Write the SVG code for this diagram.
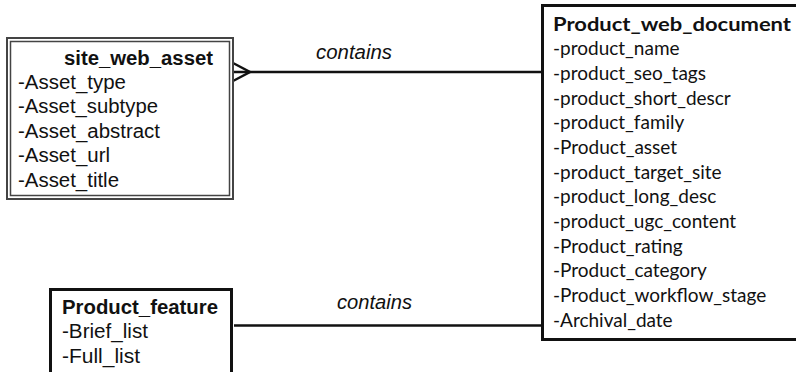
<svg xmlns="http://www.w3.org/2000/svg" width="796" height="372" viewBox="0 0 796 372">
<style>
.ar{font-family:"Liberation Sans",Arial,sans-serif;font-size:20px;fill:#111}
.b{font-weight:bold}
.it{font-style:italic}
.ca{font-family:Lato,"Open Sans",sans-serif;font-size:19px;fill:#111}
.box{fill:#fff;stroke:#111;stroke-width:3}
.con{stroke:#111;stroke-width:2.5;fill:none}
</style>
<rect width="796" height="372" fill="#fff"/>
<g id="connectors">
<line class="con" x1="234" y1="72" x2="543" y2="72"/>
<polyline class="con" points="233,63 250,72 233,81"/>
<line class="con" x1="234" y1="325.5" x2="543" y2="325.5"/>
<text class="ar it" x="316" y="59" textLength="76" lengthAdjust="spacingAndGlyphs">contains</text>
<text class="ar it" x="337" y="309" textLength="75" lengthAdjust="spacingAndGlyphs">contains</text>
</g>
<g id="site_web_asset">
<rect x="7" y="38" width="226" height="161" fill="#fff" stroke="#444" stroke-width="2"/>
<rect x="10.5" y="41.5" width="219" height="154" fill="none" stroke="#444" stroke-width="1.5"/>
<text class="ar b" x="64" y="65" textLength="149" lengthAdjust="spacingAndGlyphs">site_web_asset</text>
<text class="ar" x="18" y="89" textLength="108" lengthAdjust="spacingAndGlyphs">-Asset_type</text>
<text class="ar" x="18" y="113" textLength="140" lengthAdjust="spacingAndGlyphs">-Asset_subtype</text>
<text class="ar" x="18" y="138" textLength="142" lengthAdjust="spacingAndGlyphs">-Asset_abstract</text>
<text class="ar" x="18" y="162" textLength="92" lengthAdjust="spacingAndGlyphs">-Asset_url</text>
<text class="ar" x="18" y="187" textLength="101" lengthAdjust="spacingAndGlyphs">-Asset_title</text>
</g>
<g id="Product_feature">
<rect class="box" x="50.5" y="289.5" width="181" height="100"/>
<text class="ar b" x="62" y="314" textLength="156" lengthAdjust="spacingAndGlyphs">Product_feature</text>
<text class="ar" x="62" y="338" textLength="86" lengthAdjust="spacingAndGlyphs">-Brief_list</text>
<text class="ar" x="62" y="363" textLength="78" lengthAdjust="spacingAndGlyphs">-Full_list</text>
</g>
<g id="Product_web_document">
<rect class="box" x="542.5" y="5.5" width="258" height="334"/>
<text class="ca b" x="553" y="31" textLength="238" lengthAdjust="spacingAndGlyphs">Product_web_document</text>
<text class="ca" x="553" y="55">-product_name</text>
<text class="ca" x="553" y="80">-product_seo_tags</text>
<text class="ca" x="553" y="104.5">-product_short_descr</text>
<text class="ca" x="553" y="129">-product_family</text>
<text class="ca" x="553" y="154">-Product_asset</text>
<text class="ca" x="553" y="178.5">-product_target_site</text>
<text class="ca" x="553" y="203">-product_long_desc</text>
<text class="ca" x="553" y="228">-product_ugc_content</text>
<text class="ca" x="553" y="252.5">-Product_rating</text>
<text class="ca" x="553" y="277">-Product_category</text>
<text class="ca" x="553" y="302">-Product_workflow_stage</text>
<text class="ca" x="553" y="326.5">-Archival_date</text>
</g>
</svg>
